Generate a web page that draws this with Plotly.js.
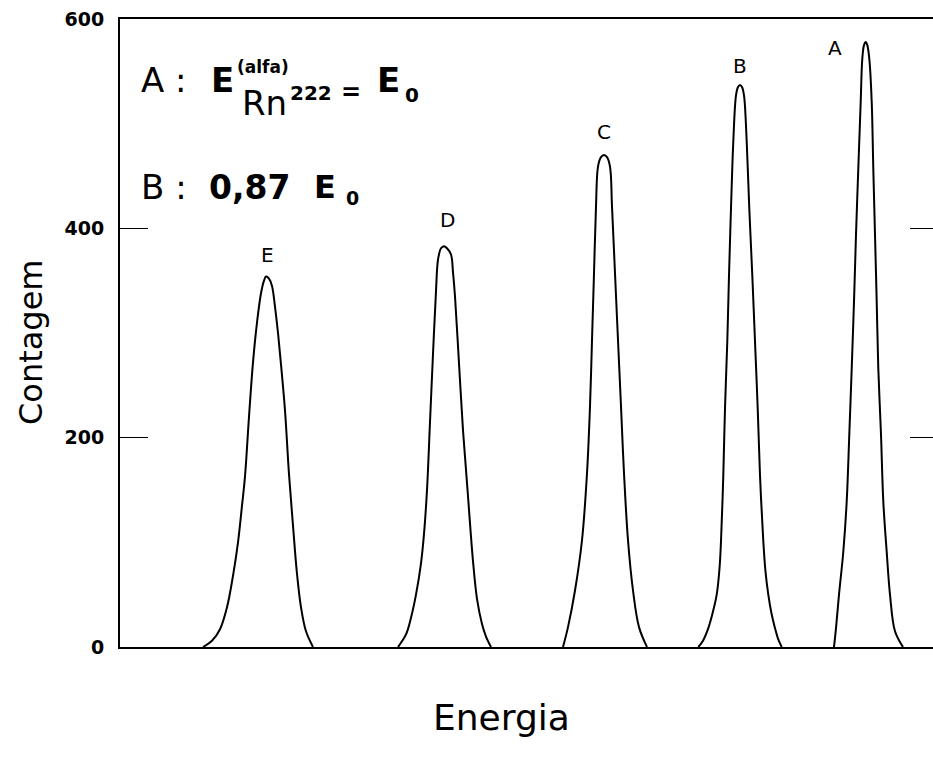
<!DOCTYPE html>
<html>
<head>
<meta charset="utf-8">
<script src="https://cdn.plot.ly/plotly-3.0.1.min.js"></script>
<style>html,body{margin:0;padding:0;background:#fff;overflow:hidden;}#chart{width:933px;height:762px;}</style>
</head>
<body>
<div id="chart"></div>
<script>
// Peak data (energy in arbitrary units, counts)
const energiaE = [83, 92, 100, 107, 113, 118, 122, 125, 129, 133, 137, 141, 144, 146, 149, 152, 155, 158, 161, 165, 169, 173, 177, 181, 186, 193];
const contagemE = [0, 6, 17, 38, 68, 100, 135, 163, 220, 272, 310, 338, 350, 354, 352, 345, 325, 300, 270, 226, 165, 116, 70, 38, 15, 0];

const energiaD = [278, 286, 291, 296, 301, 304, 307, 310, 313, 316, 318, 321, 324, 327, 331, 333, 335, 339, 343, 348, 353, 357, 362, 366, 371];
const contagemD = [0, 12, 28, 50, 80, 108, 150, 215, 280, 340, 370, 381, 383, 381, 375, 358, 335, 271, 207, 144, 82, 46, 22, 10, 0];

const energiaC = [443, 448, 455, 462, 467, 470, 472, 474, 476, 478, 481, 484, 487, 490, 492, 495, 498, 501, 504, 508, 513, 519, 527];
const contagemC = [0, 19, 54, 102, 166, 230, 293, 357, 421, 459, 468, 470, 468, 459, 421, 357, 293, 230, 166, 102, 54, 19, 0];

const energiaB = [578.3, 583, 588.3, 592.5, 596.7, 599.5, 601, 603.3, 605, 607.3, 609, 611, 613.3, 616, 618, 620, 622, 624, 626.7, 629.3, 632.3, 635, 637.7, 640, 643.3, 645.5, 648.3, 651.5, 655, 658, 661.7];
const contagemB = [0, 6, 18, 32, 50, 75, 101, 164, 228, 292, 355, 419, 483, 527, 535, 537, 535, 527, 483, 419, 355, 292, 228, 164, 101, 72, 50, 32, 18, 8, 0];

const energiaA = [714, 716, 719, 723.3, 726.7, 729.3, 731.7, 734, 736, 738.3, 740.7, 742.3, 744, 745.7, 747.3, 749.3, 751.7, 753.3, 755, 756.7, 758.3, 761, 763.3, 766.7, 770, 775, 783];
const contagemA = [0, 18, 50, 91, 139, 203, 266, 330, 394, 457, 521, 562, 575, 578, 575, 562, 521, 457, 394, 330, 266, 203, 139, 91, 50, 15, 0];

const peakLabels = ['E', 'D', 'C', 'B', 'A'];
const peakLabelX = [147, 327, 484, 620, 715];
const peakLabelY = [375, 408, 492, 555, 572];

const yTickVals = [0, 200, 400, 600];
const yTickText = ['0', '200', '400', '600'];
const rightTickVals = [200, 400];

const xTitle = 'Energia';
const yTitle = 'Contagem';

// geometry helpers (pixel -> paper)
const L = 120, R = 933, T = 19, B = 647;
const px = v => (v - L) / (R - L);
const py = v => (B - v) / (B - T);

const line = {color: '#000', width: 2, shape: 'spline', smoothing: 1};
const mk = (x, y, ya) => ({x: x, y: y, type: 'scatter', mode: 'lines', line: line, hoverinfo: 'skip', showlegend: false, yaxis: ya || 'y'});

const traces = [
  mk(energiaE, contagemE),
  mk(energiaD, contagemD),
  mk(energiaC, contagemC),
  mk(energiaB, contagemB),
  mk(energiaA, contagemA, 'y2')
];

const annotations = [];
peakLabels.forEach((t, i) => annotations.push({
  x: peakLabelX[i], y: peakLabelY[i], xref: 'x', yref: 'y', text: t, showarrow: false,
  font: {family: 'DejaVu Sans', size: 20, color: '#000'}, xanchor: 'center', yanchor: 'middle'
}));

const txt = (t, x, y, size, bold) => annotations.push({
  x: px(x), y: py(y), xref: 'paper', yref: 'paper', text: bold ? '<b>' + t + '</b>' : t,
  showarrow: false, xanchor: 'left', yanchor: 'middle', borderpad: 0,
  font: {family: 'DejaVu Sans', size: size, color: '#000'}
});
// line A
txt('A :', 140, 80, 34, false);
txt('E', 210, 80, 34, true);
txt('(alfa)', 236, 67, 17, true);
txt('Rn', 241, 103, 34, false);
txt('222', 289, 93, 20, true);
txt('=', 340, 92, 24, true);
txt('E', 376, 80, 34, true);
txt('0', 404, 95, 20, true);
// line B
txt('B :', 140, 187, 34, false);
txt('0,87', 208, 187, 33, true);
txt('E', 313, 187, 32, true);
txt('0', 345, 198, 19, true);

// axis titles
annotations.push({x: px(501), y: py(717), xref: 'paper', yref: 'paper', text: xTitle, showarrow: false,
  xanchor: 'center', yanchor: 'middle', font: {family: 'DejaVu Sans', size: 36, color: '#000'}});
annotations.push({x: px(31), y: py(342), xref: 'paper', yref: 'paper', text: yTitle, showarrow: false, textangle: -90,
  xanchor: 'center', yanchor: 'middle', font: {family: 'DejaVu Sans', size: 32, color: '#000'}});

const layout = {
  width: 933, height: 762,
  margin: {l: L, r: 933 - R, t: T, b: 762 - B, pad: 0},
  paper_bgcolor: '#fff', plot_bgcolor: '#fff',
  showlegend: false,
  xaxis: {range: [0, R - L], showgrid: false, zeroline: false, showticklabels: false, ticks: '',
    showline: true, linecolor: '#000', linewidth: 2, mirror: true, fixedrange: true},
  yaxis: {range: [0, 600], showgrid: false, zeroline: false, showline: true, linecolor: '#000', linewidth: 2,
    ticks: 'inside', ticklen: 28, tickwidth: 1.5, tickcolor: '#000',
    tickvals: yTickVals, ticktext: yTickText, ticklabelstandoff: 10,
    tickfont: {family: 'DejaVu Sans', size: 19, color: '#000', weight: 'bold'}, fixedrange: true},
  yaxis2: {range: [0, 600], overlaying: 'y', side: 'right', showgrid: false, zeroline: false, showline: false,
    ticks: 'inside', ticklen: 23, tickwidth: 1.5, tickcolor: '#000', tickvals: rightTickVals,
    showticklabels: false, fixedrange: true},
  annotations: annotations
};

Plotly.newPlot('chart', traces, layout, {displayModeBar: false, staticPlot: true});
</script>
</body>
</html>
